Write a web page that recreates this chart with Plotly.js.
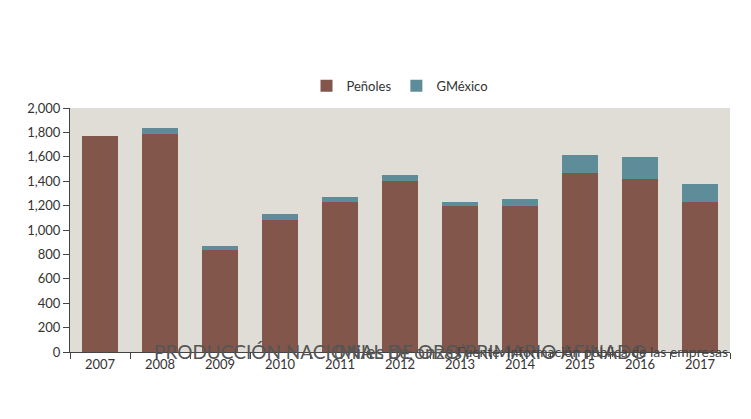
<!DOCTYPE html>
<html><head><meta charset="utf-8">
<script src="https://cdn.plot.ly/plotly-3.0.1.min.js"></script>
<style>body{margin:0;background:#fff}</style>
</head><body>
<div id="chart" style="width:751px;height:419px"></div>
<script>
// Datos (miles de onzas)
const years = ['2007','2008','2009','2010','2011','2012','2013','2014','2015','2016','2017'];
const penoles = [1770, 1787, 836, 1082, 1230, 1402, 1197, 1197, 1467, 1418, 1230];
const gmexico = [0, 49, 33, 49, 41, 49, 33, 57, 148, 181, 147];

const font = { family: 'Lato, "Open Sans", sans-serif', color: '#444', size: 13 };

const traces = [
    { x: years, y: penoles, name: 'Peñoles', type: 'bar', marker: { color: '#82564a' } },
    { x: years, y: gmexico, name: 'GMéxico', type: 'bar', marker: { color: '#5e8d99' } }
];

const layout = {
    barmode: 'stack',
    bargap: 0.4,
    font: font,
    paper_bgcolor: '#fff',
    plot_bgcolor: '#e0ddd6',
    margin: { t: 108, l: 70, r: 21, b: 67 },
    legend: {
        orientation: 'h', x: 0.5, xanchor: 'center', y: 1.03, yanchor: 'bottom',
        font: { size: 13, color: '#333' }, itemwidth: 30, traceorder: 'normal'
    },
    xaxis: {
        type: 'category', showline: true, linecolor: '#444', ticks: 'outside', tickson: 'boundaries',
        ticklen: 6, tickcolor: '#444', tickfont: { size: 13, color: '#333' }
    },
    yaxis: {
        range: [0, 2000], dtick: 200, tickformat: ',d', showgrid: false,
        showline: true, linecolor: '#444', ticks: 'outside', ticklen: 6, tickcolor: '#444',
        tickfont: { size: 13, color: '#333' }, zeroline: false
    },
    annotations: [
        { text: 'PRODUCCIÓN NACIONAL DE ORO PRIMARIO AFINADO', xref: 'paper', yref: 'container',
          x: 0.5, y: 0.945, yanchor: 'middle', showarrow: false, font: { size: 19, color: '#555' } },
        { text: '(Miles de onzas)', xref: 'paper', yref: 'container',
          x: 0.5, y: 0.885, yanchor: 'middle', showarrow: false, font: { size: 19, color: '#555' } },
        { text: 'Fuente: Información pública de las empresas', xref: 'paper', yref: 'container',
          x: 1, y: 0.05, xanchor: 'right', yanchor: 'middle', showarrow: false,
          font: { size: 14, color: '#444' } }
    ]
};

Plotly.newPlot('chart', traces, layout, { displayModeBar: false });
</script>
</body></html>
